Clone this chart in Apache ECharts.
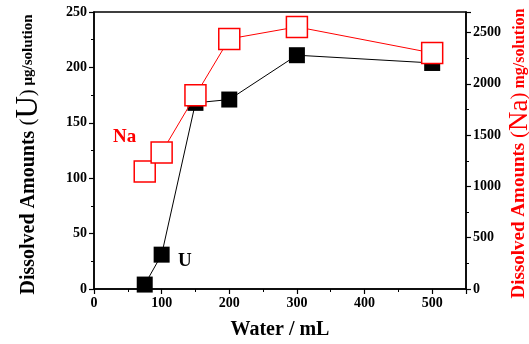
<!DOCTYPE html>
<html>
<head>
<meta charset="utf-8">
<script src="https://cdn.jsdelivr.net/npm/echarts@6/dist/echarts.min.js"></script>
<style>
  html, body { margin: 0; padding: 0; background: #fff; }
  #main { width: 529px; height: 344px; }
</style>
</head>
<body>
<div id="main"></div>
<script>
var water = [75, 100, 150, 200, 300, 500];
var uAmount = [4, 31, 168, 171, 211, 204];
var naAmount = [1145, 1331, 1888, 2438, 2555, 2301];

var serif = '"Liberation Serif", "Times New Roman", serif';
var plain = function (v) { return String(v); };

var myChart = echarts.init(document.getElementById('main'));
var option = {
    animation: false,
    textStyle: { fontFamily: serif },
    grid: {
        left: 94, right: 63, top: 12, bottom: 55,
        outerBoundsMode: 'none',
        containLabel: false,
        show: true, borderColor: '#000', borderWidth: 1.5
    },
    xAxis: {
        type: 'value',
        min: 0, max: 550, interval: 100,
        name: 'Water / mL',
        nameLocation: 'middle',
        nameGap: 31,
        nameTextStyle: { fontFamily: serif, fontWeight: 'bold', fontSize: 20, color: '#000' },
        axisLine: { lineStyle: { color: '#000', width: 1.5 } },
        axisTick: { inside: false, length: 5, lineStyle: { color: '#000', width: 1.2 } },
        minorTick: { show: true, splitNumber: 2, length: 3, lineStyle: { color: '#000' } },
        splitLine: { show: false },
        axisLabel: { fontFamily: serif, fontWeight: 'bold', fontSize: 14, color: '#000', margin: 7, showMaxLabel: false, formatter: plain }
    },
    yAxis: [
        {
            type: 'value',
            min: 0, max: 250, interval: 50,
            name: '{a|Dissolved Amounts }{b|(}{c|U}{b|)}{d| μg/solution}',
            nameLocation: 'middle',
            nameRotate: 90,
            nameGap: 50,
            nameMoveOverlap: false,
            nameTextStyle: {
                color: '#000',
                padding: [0, 8, 0, 0],
                rich: {
                    a: { fontFamily: serif, fontWeight: 'bold', fontSize: 20, color: '#000' },
                    b: { fontFamily: serif, fontSize: 21, color: '#000' },
                    c: { fontFamily: serif, fontSize: 31, color: '#000' },
                    d: { fontFamily: serif, fontWeight: 'bold', fontSize: 15, color: '#000' }
                }
            },
            axisLine: { show: true, lineStyle: { color: '#000', width: 1.5 } },
            axisTick: { show: true, length: 5, lineStyle: { color: '#000', width: 1.2 } },
            minorTick: { show: true, splitNumber: 2, length: 3, lineStyle: { color: '#000' } },
            splitLine: { show: false },
            axisLabel: { fontFamily: serif, fontWeight: 'bold', fontSize: 14, color: '#000', margin: 7, formatter: plain }
        },
        {
            type: 'value',
            min: 0, max: 2700, interval: 500,
            position: 'right',
            name: '{a|Dissolved Amounts }{b|(}{c|Na}{b|)}{d| mg/solution}',
            nameLocation: 'middle',
            nameRotate: 90,
            nameGap: 40,
            nameMoveOverlap: false,
            nameTextStyle: {
                color: '#f00',
                padding: [0, 6, 0, 0],
                rich: {
                    a: { fontFamily: serif, fontWeight: 'bold', fontSize: 19, color: '#f00' },
                    b: { fontFamily: serif, fontSize: 21, color: '#f00' },
                    c: { fontFamily: serif, fontSize: 27, color: '#f00' },
                    d: { fontFamily: serif, fontWeight: 'bold', fontSize: 16, color: '#f00' }
                }
            },
            axisLine: { show: true, lineStyle: { color: '#000', width: 1.5 } },
            axisTick: { show: true, length: 5, lineStyle: { color: '#000', width: 1.2 } },
            minorTick: { show: true, splitNumber: 2, length: 3, lineStyle: { color: '#000' } },
            splitLine: { show: false },
            axisLabel: { fontFamily: serif, fontWeight: 'bold', fontSize: 14, color: '#000', margin: 7, showMaxLabel: false, formatter: plain }
        }
    ],
    series: [
        {
            name: 'U',
            type: 'line',
            yAxisIndex: 0,
            data: water.map(function (w, i) { return [w, uAmount[i]]; }),
            symbol: 'rect',
            symbolSize: 16,
            itemStyle: { color: '#000' },
            lineStyle: { color: '#000', width: 1 },
            z: 2
        },
        {
            name: 'Na',
            type: 'line',
            yAxisIndex: 1,
            data: water.map(function (w, i) { return [w, naAmount[i]]; }),
            symbol: 'rect',
            symbolSize: 21,
            showAllSymbol: true,
            itemStyle: { color: '#fff', borderColor: '#f00', borderWidth: 1.5 },
            lineStyle: { color: '#f00', width: 1 },
            z: 3
        }
    ],
    graphic: [
        { type: 'text', left: 113, top: 128, style: { text: 'Na', fill: '#f00', font: 'bold 19px ' + serif } },
        { type: 'text', left: 178, top: 252, style: { text: 'U', fill: '#000', font: 'bold 19px ' + serif } }
    ]
};
myChart.setOption(option);
</script>
</body>
</html>
